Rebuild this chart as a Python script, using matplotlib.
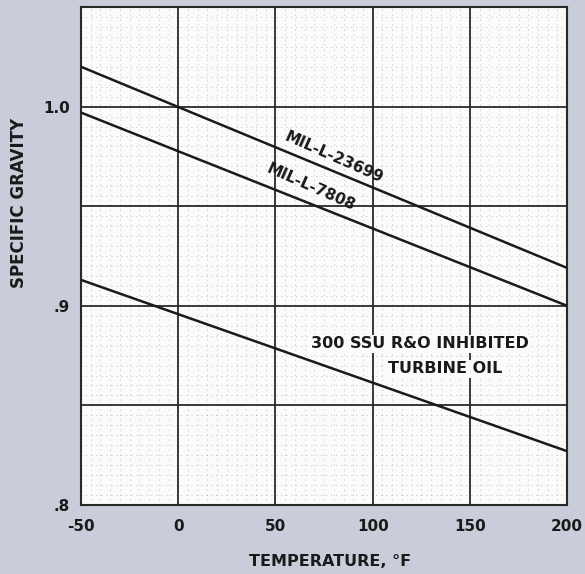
import matplotlib
matplotlib.use("Agg")
import matplotlib.pyplot as plt
from matplotlib.ticker import MultipleLocator

# Data
temps = [-50, 200]
mil_23699 = [1.020, 0.919]
mil_7808 = [0.997, 0.900]
turbine = [0.913, 0.827]
x_ticks = [-50, 0, 50, 100, 150, 200]
x_labels = ["-50", "0", "50", "100", "150", "200"]
y_ticks = [0.8, 0.9, 1.0]
y_labels = [".8", ".9", "1.0"]

bg = "#c9cdd9"
ink = "#1a1a1a"

fig = plt.figure(figsize=(5.85, 5.74), dpi=100, facecolor=bg)
ax = fig.add_axes([0.1385, 0.1202, 0.831, 0.8676])
ax.set_facecolor("#fbfbf9")

ax.set_xlim(-50, 200)
ax.set_ylim(0.8, 1.05)

# minor dotted grid
ax.xaxis.set_minor_locator(MultipleLocator(5))
ax.yaxis.set_minor_locator(MultipleLocator(0.005))
ax.grid(which="minor", color="#a8a8a8", lw=0.6, ls=(0, (1, 5)))
# major grid lines (every 50 F and 0.05)
for gx in [0, 50, 100, 150]:
    ax.axvline(gx, color="#2a2a2a", lw=1.3, zorder=1)
for gy in [0.85, 0.9, 0.95, 1.0]:
    ax.axhline(gy, color="#2a2a2a", lw=1.3, zorder=1)
ax.set_axisbelow(True)

ax.set_xticks(x_ticks)
ax.set_xticklabels(x_labels)
ax.set_yticks(y_ticks)
ax.set_yticklabels(y_labels)
ax.tick_params(which="both", length=0, colors=ink)
ax.tick_params(axis="x", pad=10, labelsize=11)
ax.tick_params(axis="y", pad=8, labelsize=11)
for lab in ax.get_xticklabels() + ax.get_yticklabels():
    lab.set_fontweight("bold")

for s in ax.spines.values():
    s.set_color("#2a2a2a")
    s.set_linewidth(1.5)

ax.plot(temps, mil_23699, color=ink, lw=1.8, zorder=3)
ax.plot(temps, mil_7808, color=ink, lw=1.8, zorder=3)
ax.plot(temps, turbine, color=ink, lw=1.8, zorder=3)

ax.text(80, 0.9745, "MIL-L-23699", rotation=-24, ha="center", va="center",
        fontsize=11, fontweight="bold", color=ink, zorder=4)
ax.text(68, 0.9593, "MIL-L-7808", rotation=-24, ha="center", va="center",
        fontsize=11, fontweight="bold", color=ink, zorder=4)
ax.text(124.4, 0.8809, "300 SSU R&O INHIBITED", ha="center", va="center",
        fontsize=11.5, fontweight="bold", color=ink, zorder=4,
        bbox=dict(facecolor="#fbfbf9", edgecolor="none", pad=1))
ax.text(137.2, 0.8683, "TURBINE OIL", ha="center", va="center",
        fontsize=11.5, fontweight="bold", color=ink, zorder=4,
        bbox=dict(facecolor="#fbfbf9", edgecolor="none", pad=1))

fig.text(0.564, 0.021, "TEMPERATURE, °F", ha="center", va="center",
         fontsize=11.5, fontweight="bold", color=ink)
fig.text(0.032, 0.646, "SPECIFIC GRAVITY", ha="center", va="center",
         rotation=90, fontsize=12, fontweight="bold", color=ink)

fig.savefig("out.png", dpi=100, facecolor=bg)
